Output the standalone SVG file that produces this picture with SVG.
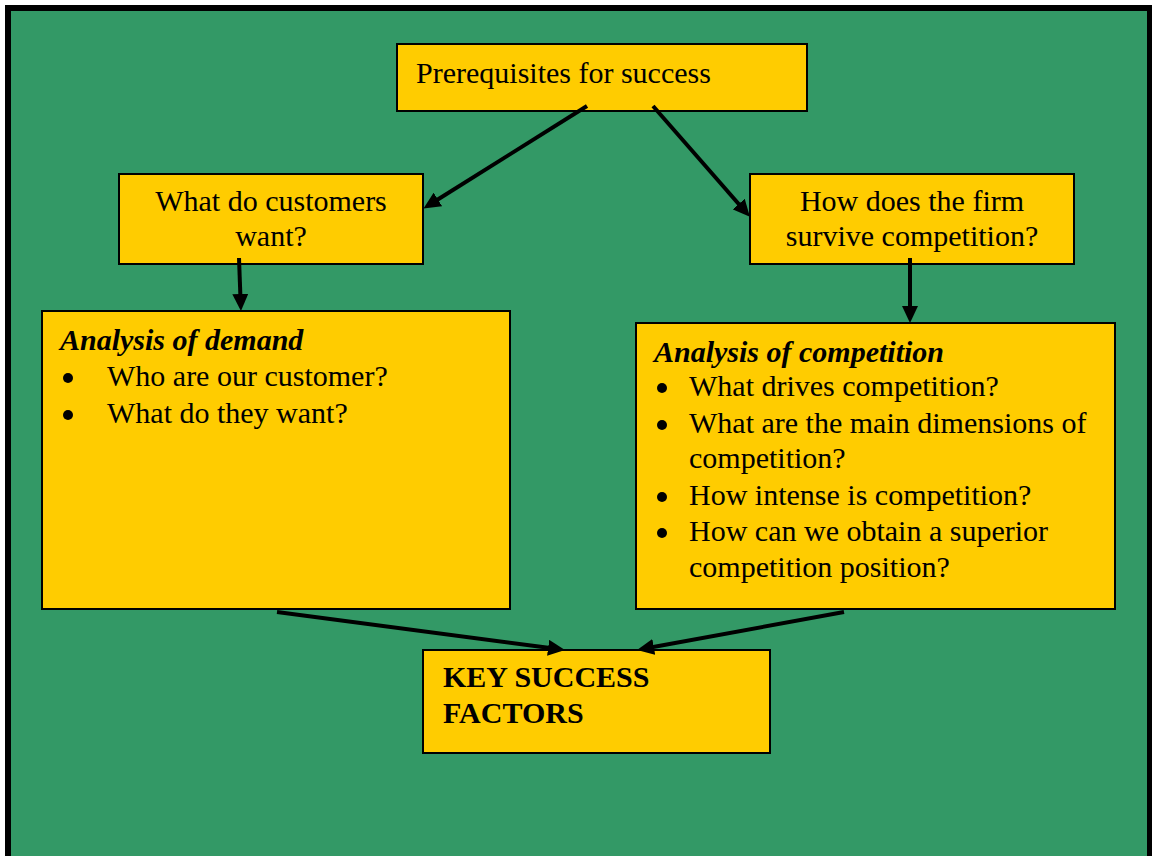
<svg xmlns="http://www.w3.org/2000/svg" width="1152" height="856" viewBox="0 0 1152 856">
  <style>
    .box { fill: #FFCC00; stroke: #000; stroke-width: 2; }
    .t { font-family: "Liberation Serif", "Times New Roman", serif; font-size: 30px; fill: #000; }
    .c { text-anchor: middle; }
    .bi { font-weight: bold; font-style: italic; }
    .b { font-weight: bold; }
    .link { fill: none; stroke: #000; stroke-width: 4; marker-end: url(#arrow); }
  </style>
  <defs>
    <marker id="arrow" markerUnits="userSpaceOnUse" markerWidth="17" markerHeight="16" refX="2" refY="8" orient="auto">
      <path d="M0,0 L17,8 L0,16 z" fill="#000"/>
    </marker>
  </defs>

  <!-- page background with black frame -->
  <rect x="8" y="8" width="1142" height="860" fill="#339966" stroke="#000" stroke-width="6"/>

  <g id="prerequisites">
    <rect class="box" x="397" y="44" width="410" height="67"/>
    <text class="t" x="416" y="83">Prerequisites for success</text>
  </g>

  <g id="customers">
    <rect class="box" x="119" y="174" width="304" height="90"/>
    <text class="t c" x="271" y="211">What do customers</text>
    <text class="t c" x="271" y="246">want?</text>
  </g>

  <g id="competition-question">
    <rect class="box" x="750" y="174" width="324" height="90"/>
    <text class="t c" x="912" y="211">How does the firm</text>
    <text class="t c" x="912" y="246">survive competition?</text>
  </g>

  <g id="demand-analysis">
    <rect class="box" x="42" y="311" width="468" height="298"/>
    <text class="t bi" x="60" y="350">Analysis of demand</text>
    <circle cx="68" cy="378" r="5"/>
    <text class="t" x="107" y="386">Who are our customer?</text>
    <circle cx="68" cy="415" r="5"/>
    <text class="t" x="107" y="423">What do they want?</text>
  </g>

  <g id="competition-analysis">
    <rect class="box" x="636" y="323" width="479" height="286"/>
    <text class="t bi" x="654" y="362">Analysis of competition</text>
    <circle cx="662" cy="388" r="5"/>
    <text class="t" x="689" y="396">What drives competition?</text>
    <circle cx="662" cy="425" r="5"/>
    <text class="t" x="689" y="433">What are the main dimensions of</text>
    <text class="t" x="689" y="468">competition?</text>
    <circle cx="662" cy="497" r="5"/>
    <text class="t" x="689" y="505">How intense is competition?</text>
    <circle cx="662" cy="533" r="5"/>
    <text class="t" x="689" y="541">How can we obtain a superior</text>
    <text class="t" x="689" y="577">competition position?</text>
  </g>

  <g id="key-success-factors">
    <rect class="box" x="423" y="650" width="347" height="103"/>
    <text class="t b" x="443" y="687">KEY SUCCESS</text>
    <text class="t b" x="443" y="723">FACTORS</text>
  </g>

  <g id="connectors">
    <path class="link" d="M587,106 L436.2,200.5"/>
    <path class="link" d="M653,106 L740,205.5"/>
    <path class="link" d="M239,258 L240.4,296"/>
    <path class="link" d="M910,258 L910,308"/>
    <path class="link" d="M277,612 L550.1,648"/>
    <path class="link" d="M844,612 L651.8,647.3"/>
  </g>
</svg>
